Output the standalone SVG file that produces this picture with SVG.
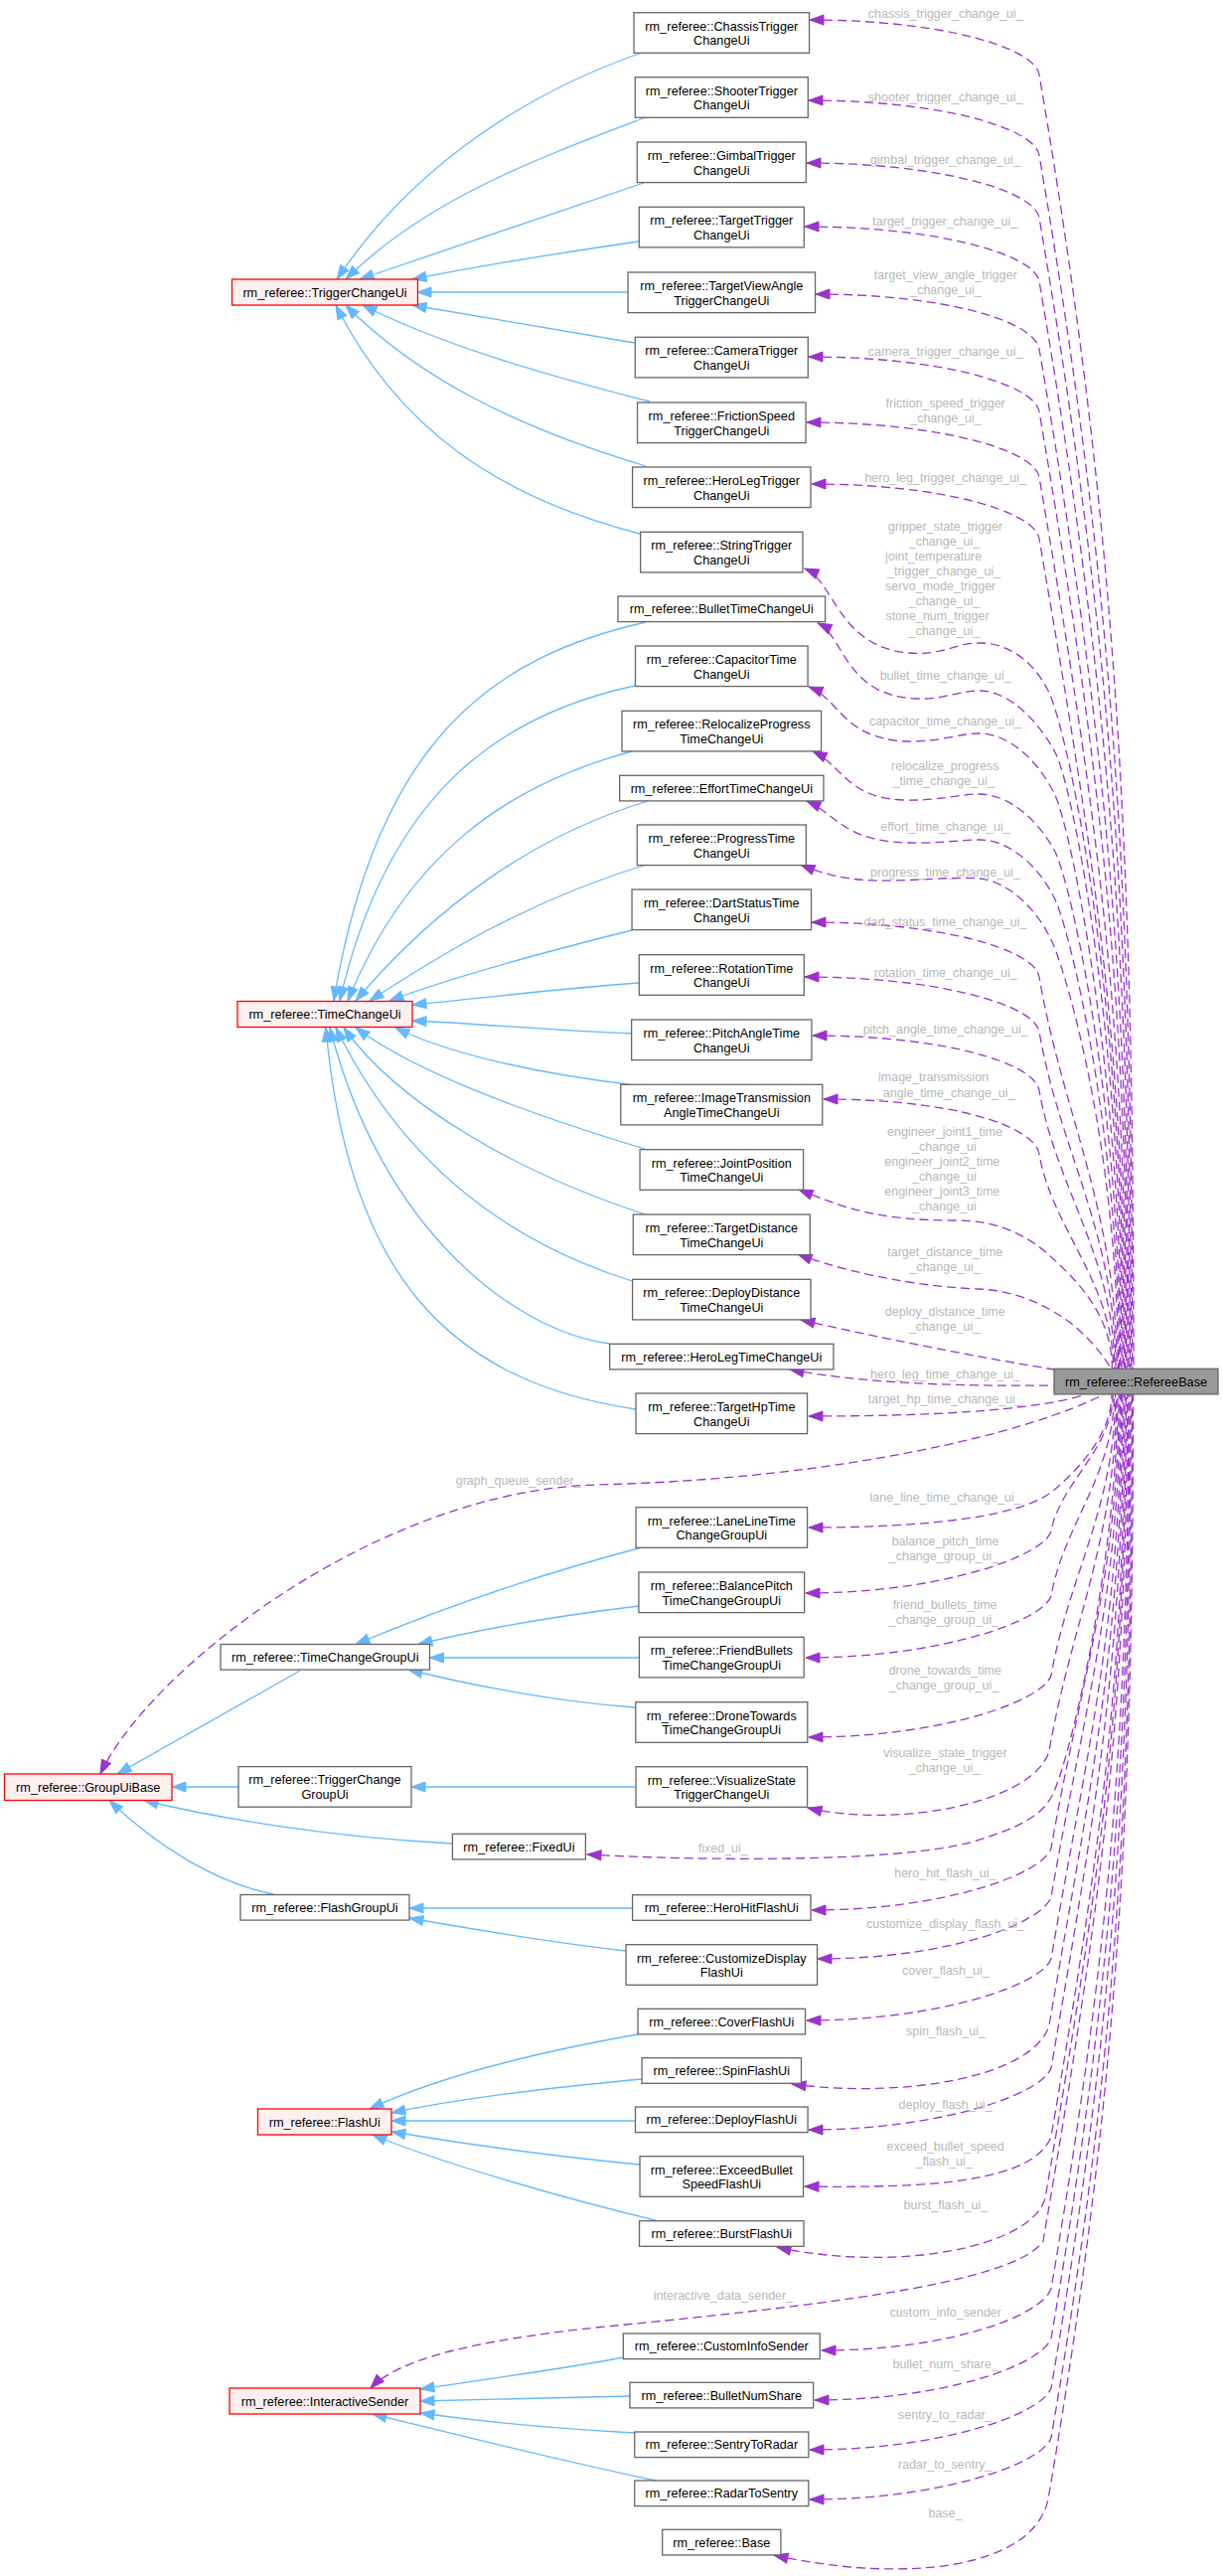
<svg xmlns="http://www.w3.org/2000/svg" width="1231" height="2592" viewBox="0 0 1231 2592">
<style>
.n rect{fill:#ffffff;stroke:#666666;stroke-width:1.3}
.r rect{fill:#fff0f0;stroke:#ff0000;stroke-width:1.3}
.m rect{fill:#999999;stroke:#666666;stroke-width:1.3}
text{font-family:"Liberation Sans",Arial,Helvetica,sans-serif;text-anchor:middle}
.n text,.r text,.m text{font-size:12.7px;fill:#000000}
.lb text{font-size:12.5px;fill:#b8b8b8}
.i{fill:none;stroke:#63b8ff;stroke-width:1.3;marker-end:url(#ab)}
.u{fill:none;stroke:#9a32cd;stroke-width:1.3;stroke-dasharray:9,5;marker-start:url(#ap)}
</style>
<defs>
<marker id="ab" markerUnits="userSpaceOnUse" markerWidth="16" markerHeight="12" viewBox="0 0 16 12" refX="15" refY="6" orient="auto"><path d="M1,1 L15,6 L1,11 z" fill="#63b8ff" stroke="#63b8ff" stroke-width="1"/></marker>
<marker id="ap" markerUnits="userSpaceOnUse" markerWidth="16" markerHeight="12" viewBox="0 0 16 12" refX="1" refY="6" orient="auto"><path d="M15,1 L1,6 L15,11 z" fill="#9a32cd" stroke="#9a32cd" stroke-width="1"/></marker>
</defs>
<rect x="0" y="0" width="1231" height="2592" fill="#ffffff"/>
<g id="connectors">
<path class="i" d="M646,53 C540,90 420,160 339,281"/>
<path class="i" d="M650,118 C540,160 430,200 348,281"/>
<path class="i" d="M648,184 C540,220 440,255 362,281"/>
<path class="i" d="M643,243 C560,255 480,268 415,281"/>
<path class="i" d="M632,294 L420,294"/>
<path class="i" d="M639,345 C560,332 480,318 415,307"/>
<path class="i" d="M654,404 C540,375 440,345 365,307"/>
<path class="i" d="M650,469 C520,430 420,380 348,307"/>
<path class="i" d="M644,537 C500,500 400,430 338,307"/>
<path class="i" d="M650,626 C500,660 380,740 336,1007"/>
<path class="i" d="M639,690 C500,720 390,800 342,1007"/>
<path class="i" d="M636,756 C510,790 410,860 350,1007"/>
<path class="i" d="M652,806 C540,840 440,910 358,1007"/>
<path class="i" d="M650,870 C520,910 430,970 372,1007"/>
<path class="i" d="M636,936 C540,960 450,985 392,1007"/>
<path class="i" d="M643,989 C560,995 480,1005 415,1011"/>
<path class="i" d="M636,1040 C560,1037 480,1030 415,1027"/>
<path class="i" d="M632,1091 C540,1080 450,1060 398,1034"/>
<path class="i" d="M652,1157 C530,1120 420,1080 358,1034"/>
<path class="i" d="M650,1222 C520,1180 400,1110 346,1034"/>
<path class="i" d="M636,1289 C480,1240 390,1140 338,1034"/>
<path class="i" d="M614,1352 C520,1340 385,1240 332,1034"/>
<path class="i" d="M640,1418 C450,1390 350,1280 328,1034"/>
<path class="i" d="M302,1681 L118,1785"/>
<path class="i" d="M240,1798 L173,1798"/>
<path class="i" d="M455,1855 C330,1848 220,1830 145,1811.5"/>
<path class="i" d="M275,1906 C220,1895 160,1860 110,1811.5"/>
<path class="i" d="M646,1557 C540,1585 440,1620 358,1654.5"/>
<path class="i" d="M643,1616 C560,1626 480,1640 421,1654.5"/>
<path class="i" d="M643,1668 L432.5,1668"/>
<path class="i" d="M639,1718 C560,1712 480,1697 411,1680"/>
<path class="i" d="M640,1798 L414,1798"/>
<path class="i" d="M636.6,1920 L412,1920"/>
<path class="i" d="M630,1963 C560,1955 480,1942 412,1930"/>
<path class="i" d="M642,2047 C540,2065 440,2090 372,2122"/>
<path class="i" d="M646,2092 C560,2100 460,2112 394,2126"/>
<path class="i" d="M639.5,2134 L394,2134"/>
<path class="i" d="M644,2178 C560,2170 460,2156 394,2145"/>
<path class="i" d="M662,2234.7 C560,2210 440,2175 375,2148"/>
<path class="i" d="M627.3,2372 C560,2385 480,2395 423,2404"/>
<path class="i" d="M634,2411 L423,2416"/>
<path class="i" d="M638.75,2448 C560,2444 480,2436 423,2428"/>
<path class="i" d="M660,2496 C560,2475 440,2445 375,2429"/>

<path class="u" d="M815,20 C945,20 1041,47 1046,75 C1124.1,530.7 1141,856.2 1141,1377"/>
<path class="u" d="M814,101 C944,101 1041,128 1046,156 C1119.3,583.4 1139.8,888.6 1139.8,1377"/>
<path class="u" d="M812,164 C942,164 1041,191 1046,219 C1115.5,624.3 1138.6,913.8 1138.6,1377"/>
<path class="u" d="M810,228 C940,228 1041,255 1046,283 C1111.6,665.9 1137.4,939.4 1137.4,1377"/>
<path class="u" d="M821,296 C951,296 1041,323 1046,351 C1107.6,710.1 1136.2,966.6 1136.2,1377"/>
<path class="u" d="M814,359 C944,359 1041,386 1046,414 C1103.8,751 1135,991.8 1135,1377"/>
<path class="u" d="M812,425 C942,425 1041,452 1046,480 C1099.8,794 1133.8,1018.2 1133.8,1377"/>
<path class="u" d="M817,487 C947,487 1041,514 1046,542 C1096.1,834.3 1132.6,1043 1132.6,1377"/>
<path class="u" d="M810,572 C840,585 843,650 914,657 C950,660 960,647 986,647 C1015,647 1040,665 1055,695 C1075,735 1131.4,1000 1131.4,1377"/>
<path class="u" d="M823,627 C850,640 850,700 922,703 C950,704 965,695 986,695 C1015,695 1045,725 1062,757 C1080,790 1130.2,1050 1130.2,1377"/>
<path class="u" d="M814,691 C845,703 848,743 912,746 C945,747 965,738 986,738 C1015,738 1045,765 1062,800 C1078,835 1129,1080 1129,1377"/>
<path class="u" d="M818,756 C848,770 852,803 910,805 C945,806 965,799 986,799 C1015,799 1045,825 1062,857 C1078,890 1127.8,1110 1127.8,1377"/>
<path class="u" d="M812,806 C840,818 850,847 914,848 C945,849 965,845 986,845 C1015,845 1045,870 1062,905 C1077,937 1126.6,1140 1126.6,1377"/>
<path class="u" d="M806,870 C835,882 860,887 900,886 C940,885 965,882 986,884 C1015,887 1045,915 1060,950 C1075,985 1125.4,1160 1125.4,1377"/>
<path class="u" d="M817,928 C947,928 1041,955 1046,983 C1069.6,1120.9 1124.2,1219.4 1124.2,1377"/>
<path class="u" d="M810,983 C940,983 1041,1010 1046,1038 C1066.3,1156.7 1123,1241.4 1123,1377"/>
<path class="u" d="M818,1042 C948,1042 1041,1069 1046,1097 C1062.8,1195 1121.8,1265 1121.8,1377"/>
<path class="u" d="M829,1106 C959,1106 1041,1133 1046,1161 C1059,1236.6 1120.6,1290.6 1120.6,1377"/>
<path class="u" d="M804,1197 C850,1215 880,1228 962,1228 C1000,1228 1030,1240 1055,1262 C1080,1285 1119.4,1320 1119.4,1377"/>
<path class="u" d="M803,1262 C860,1283 930,1295 986,1297 C1040,1300 1090,1330 1118.2,1377"/>
<path class="u" d="M806,1328 C880,1345 980,1365 1061,1378"/>
<path class="u" d="M795,1378 C870,1392 960,1395 1061,1394"/>
<path class="u" d="M814,1425 C930,1425 1040,1420 1093,1403"/>
<path class="u" d="M101,1785 C150,1680 380,1500 600,1494 C850,1488 1040,1440 1111,1403"/>
<path class="u" d="M814,1537 C940,1537 1030,1525 1060,1500 C1090,1475 1119,1440 1119,1403"/>
<path class="u" d="M811,1603 C941,1603 1048,1568 1058,1541 C1066.3,1492.7 1120.2,1458.2 1120.2,1403"/>
<path class="u" d="M811,1668 C941,1668 1048,1633 1058,1606 C1070.2,1535 1121.4,1484.2 1121.4,1403"/>
<path class="u" d="M814,1748 C944,1748 1048,1713 1058,1686 C1075,1587 1122.6,1516.2 1122.6,1403"/>
<path class="u" d="M813,1819 C900,1840 1040,1815 1056,1762 C1077.5,1636.4 1123.8,1546.6 1123.8,1403"/>
<path class="u" d="M591,1866 C700,1872 900,1875 980,1853 C1030,1838 1050,1825 1060,1805 C1080,1760 1125,1560 1125,1403"/>
<path class="u" d="M817,1922 C947,1922 1048,1887 1058,1860 C1085.4,1700 1126.2,1585.8 1126.2,1403"/>
<path class="u" d="M823,1971 C953,1971 1048,1936 1058,1909 C1088.4,1731.9 1127.4,1605.4 1127.4,1403"/>
<path class="u" d="M812,2033 C942,2033 1048,1998 1058,1971 C1092.1,1772.2 1128.6,1630.2 1128.6,1403"/>
<path class="u" d="M797,2097 C910,2112 1040,2090 1056,2038 C1094.1,1815.75 1129.8,1657 1129.8,1403"/>
<path class="u" d="M814,2143 C944,2143 1048,2108 1058,2081 C1098.7,1843.7 1131,1674.2 1131,1403"/>
<path class="u" d="M810,2200 C940,2202 1040,2195 1058,2150 C1102.8,1888.55 1132.2,1701.8 1132.2,1403"/>
<path class="u" d="M782,2261 C900,2287 1038,2262 1052,2212 C1100.5,1928.8 1133.4,1726.6 1133.4,1403"/>
<path class="u" d="M373,2403 C400,2375 470,2356 600,2342 C800,2322 1020,2300 1050,2255 C1101,1957 1134.6,1744 1134.6,1403"/>
<path class="u" d="M827,2365 C957,2365 1048,2330 1058,2303 C1112,1988 1135.8,1763 1135.8,1403"/>
<path class="u" d="M820,2415 C950,2415 1048,2380 1058,2353 C1115,2020.5 1137,1783 1137,1403"/>
<path class="u" d="M815,2465 C945,2465 1048,2430 1058,2403 C1118,2053 1138.2,1803 1138.2,1403"/>
<path class="u" d="M815,2515 C945,2515 1048,2480 1058,2453 C1121,2085.5 1139.4,1823 1139.4,1403"/>
<path class="u" d="M779,2571 C910,2600 1040,2585 1055,2515 C1121.7,2125.8 1140.6,1847.8 1140.6,1403"/>

<g class="lb">
<text x="951.7" y="18.4">chassis_trigger_change_ui_</text>
<text x="951.7" y="101.7">shooter_trigger_change_ui_</text>
<text x="951.5" y="165.4">gimbal_trigger_change_ui_</text>
<text x="951.3" y="227.1">target_trigger_change_ui_</text>
<text x="951.7" y="281.1">target_view_angle_trigger</text>
<text x="952" y="296.1">_change_ui_</text>
<text x="951.7" y="357.7">camera_trigger_change_ui_</text>
<text x="951.7" y="410.4">friction_speed_trigger</text>
<text x="952" y="425.4">_change_ui_</text>
<text x="951.7" y="485.1">hero_leg_trigger_change_ui_</text>
<text x="951.5" y="533.7">gripper_state_trigger</text>
<text x="950.5" y="548.7">_change_ui_</text>
<text x="939.6" y="563.7">joint_temperature</text>
<text x="950.1" y="578.7">_trigger_change_ui_</text>
<text x="946.7" y="593.7">servo_mode_trigger</text>
<text x="950.5" y="608.7">_change_ui_</text>
<text x="943.5" y="623.7">stone_num_trigger</text>
<text x="950.5" y="638.7">_change_ui_</text>
<text x="951.7" y="683.7">bullet_time_change_ui_</text>
<text x="951.5" y="729.7">capacitor_time_change_ui_</text>
<text x="951.3" y="775.4">relocalize_progress</text>
<text x="949.7" y="790.1">_time_change_ui_</text>
<text x="951.5" y="836.1">effort_time_change_ui_</text>
<text x="951.5" y="882">progress_time_change_ui_</text>
<text x="951.5" y="932.1">dart_status_time_change_ui_</text>
<text x="951.7" y="983.1">rotation_time_change_ui_</text>
<text x="951.7" y="1040.1">pitch_angle_time_change_ui_</text>
<text x="939.6" y="1088.4">image_transmission</text>
<text x="951.7" y="1103.7">_angle_time_change_ui_</text>
<text x="951.1" y="1143.1">engineer_joint1_time</text>
<text x="950.5" y="1158.1">_change_ui</text>
<text x="948.3" y="1173.1">engineer_joint2_time</text>
<text x="950.5" y="1188.1">_change_ui</text>
<text x="948.3" y="1203.1">engineer_joint3_time</text>
<text x="950.5" y="1218.1">_change_ui</text>
<text x="951.3" y="1264.4">target_distance_time</text>
<text x="951" y="1279.4">_change_ui_</text>
<text x="951.3" y="1324.4">deploy_distance_time</text>
<text x="950.5" y="1339.4">_change_ui_</text>
<text x="951.5" y="1387.1">hero_leg_time_change_ui_</text>
<text x="951.3" y="1412.4">target_hp_time_change_ui_</text>
<text x="521.6" y="1494.3">graph_queue_sender_</text>
<text x="951.7" y="1511.1">lane_line_time_change_ui_</text>
<text x="951.5" y="1555.1">balance_pitch_time</text>
<text x="950" y="1570.1">_change_group_ui_</text>
<text x="951.1" y="1619.1">friend_bullets_time</text>
<text x="950" y="1634.1">_change_group_ui_</text>
<text x="951.3" y="1685.4">drone_towards_time</text>
<text x="950" y="1700.4">_change_group_ui_</text>
<text x="951.5" y="1768.4">visualize_state_trigger</text>
<text x="950.5" y="1783.4">_change_ui_</text>
<text x="727.8" y="1863.7">fixed_ui_</text>
<text x="951.3" y="1889.4">hero_hit_flash_ui_</text>
<text x="951.5" y="1940.1">customize_display_flash_ui_</text>
<text x="951.9" y="1987.1">cover_flash_ui_</text>
<text x="951.9" y="2048.1">spin_flash_ui_</text>
<text x="951.5" y="2121.7">deploy_flash_ui_</text>
<text x="951.7" y="2164.1">exceed_bullet_speed</text>
<text x="950.3" y="2179.1">_flash_ui_</text>
<text x="951.9" y="2222.7">burst_flash_ui_</text>
<text x="728" y="2314.4">interactive_data_sender_</text>
<text x="951.7" y="2331.1">custom_info_sender</text>
<text x="951.7" y="2383.1">bullet_num_share_</text>
<text x="951.3" y="2433.7">sentry_to_radar_</text>
<text x="951.3" y="2484.4">radar_to_sentry_</text>
<text x="951.5" y="2533.4">base_</text>
</g>
</g>

<g id="nodes">
<g id="TriggerChangeUi" class="r"><rect x="233.5" y="281" width="187" height="26"/><text x="327" y="298.5">rm_referee::TriggerChangeUi</text></g>
<g id="TimeChangeUi" class="r"><rect x="239" y="1007.5" width="176" height="26"/><text x="327" y="1025">rm_referee::TimeChangeUi</text></g>
<g id="GroupUiBase" class="r"><rect x="4.5" y="1785" width="168.5" height="26.5"/><text x="88.75" y="1802.5">rm_referee::GroupUiBase</text></g>
<g id="TimeChangeGroupUi" class="n"><rect x="222" y="1654.5" width="210.5" height="25.6"/><text x="327.25" y="1671.8">rm_referee::TimeChangeGroupUi</text></g>
<g id="TriggerChangeGroupUi" class="n"><rect x="240" y="1777.6" width="174" height="40.6"/><text x="327" y="1795.4">rm_referee::TriggerChange</text><text x="327" y="1810.1">GroupUi</text></g>
<g id="FixedUi" class="n"><rect x="455.4" y="1845.3" width="134" height="25.6"/><text x="522.4" y="1862.5">rm_referee::FixedUi</text></g>
<g id="FlashGroupUi" class="n"><rect x="242" y="1906.5" width="170" height="25.6"/><text x="327" y="1923.7">rm_referee::FlashGroupUi</text></g>
<g id="FlashUi" class="r"><rect x="259.5" y="2122" width="134.5" height="26"/><text x="326.75" y="2139.5">rm_referee::FlashUi</text></g>
<g id="InteractiveSender" class="r"><rect x="231" y="2403" width="192" height="26"/><text x="327" y="2420.5">rm_referee::InteractiveSender</text></g>

<g id="ChassisTriggerChangeUi" class="n"><rect x="638.05" y="12.7" width="176.5" height="40.6"/><text x="726.3" y="30.5">rm_referee::ChassisTrigger</text><text x="726.3" y="45.2">ChangeUi</text></g>
<g id="ShooterTriggerChangeUi" class="n"><rect x="639.3" y="77.7" width="174" height="40.6"/><text x="726.3" y="95.5">rm_referee::ShooterTrigger</text><text x="726.3" y="110.2">ChangeUi</text></g>
<g id="GimbalTriggerChangeUi" class="n"><rect x="641.3" y="143" width="170" height="40.6"/><text x="726.3" y="160.8">rm_referee::GimbalTrigger</text><text x="726.3" y="175.5">ChangeUi</text></g>
<g id="TargetTriggerChangeUi" class="n"><rect x="643.3" y="208.3" width="166" height="40.6"/><text x="726.3" y="226.1">rm_referee::TargetTrigger</text><text x="726.3" y="240.8">ChangeUi</text></g>
<g id="TargetViewAngleTriggerChangeUi" class="n"><rect x="632.05" y="274" width="188.5" height="40.6"/><text x="726.3" y="291.8">rm_referee::TargetViewAngle</text><text x="726.3" y="306.5">TriggerChangeUi</text></g>
<g id="CameraTriggerChangeUi" class="n"><rect x="639.3" y="339.3" width="174" height="40.6"/><text x="726.3" y="357.1">rm_referee::CameraTrigger</text><text x="726.3" y="371.8">ChangeUi</text></g>
<g id="FrictionSpeedTriggerChangeUi" class="n"><rect x="641.55" y="405" width="169.5" height="40.6"/><text x="726.3" y="422.8">rm_referee::FrictionSpeed</text><text x="726.3" y="437.5">TriggerChangeUi</text></g>
<g id="HeroLegTriggerChangeUi" class="n"><rect x="636.6" y="470" width="179.4" height="40.6"/><text x="726.3" y="487.8">rm_referee::HeroLegTrigger</text><text x="726.3" y="502.5">ChangeUi</text></g>
<g id="StringTriggerChangeUi" class="n"><rect x="644.65" y="535.3" width="163.3" height="40.6"/><text x="726.3" y="553.1">rm_referee::StringTrigger</text><text x="726.3" y="567.8">ChangeUi</text></g>
<g id="BulletTimeChangeUi" class="n"><rect x="622" y="600" width="208.6" height="25.6"/><text x="726.3" y="617.2">rm_referee::BulletTimeChangeUi</text></g>
<g id="CapacitorTimeChangeUi" class="n"><rect x="639.5" y="650" width="173.6" height="40.6"/><text x="726.3" y="667.8">rm_referee::CapacitorTime</text><text x="726.3" y="682.5">ChangeUi</text></g>
<g id="RelocalizeProgressTimeChangeUi" class="n"><rect x="626" y="715.3" width="200.6" height="40.6"/><text x="726.3" y="733.1">rm_referee::RelocalizeProgress</text><text x="726.3" y="747.8">TimeChangeUi</text></g>
<g id="EffortTimeChangeUi" class="n"><rect x="623.65" y="780.3" width="205.3" height="25.6"/><text x="726.3" y="797.5">rm_referee::EffortTimeChangeUi</text></g>
<g id="ProgressTimeChangeUi" class="n"><rect x="641.3" y="830" width="170" height="40.6"/><text x="726.3" y="847.8">rm_referee::ProgressTime</text><text x="726.3" y="862.5">ChangeUi</text></g>
<g id="DartStatusTimeChangeUi" class="n"><rect x="636.05" y="895" width="180.5" height="40.6"/><text x="726.3" y="912.8">rm_referee::DartStatusTime</text><text x="726.3" y="927.5">ChangeUi</text></g>
<g id="RotationTimeChangeUi" class="n"><rect x="643.3" y="960.7" width="166" height="40.6"/><text x="726.3" y="978.5">rm_referee::RotationTime</text><text x="726.3" y="993.2">ChangeUi</text></g>
<g id="PitchAngleTimeChangeUi" class="n"><rect x="635.65" y="1026" width="181.3" height="40.6"/><text x="726.3" y="1043.8">rm_referee::PitchAngleTime</text><text x="726.3" y="1058.5">ChangeUi</text></g>
<g id="ImageTransmissionAngleTimeChangeUi" class="n"><rect x="624.8" y="1091.3" width="203" height="40.6"/><text x="726.3" y="1109.1">rm_referee::ImageTransmission</text><text x="726.3" y="1123.8">AngleTimeChangeUi</text></g>
<g id="JointPositionTimeChangeUi" class="n"><rect x="644.05" y="1156.7" width="164.5" height="40.6"/><text x="726.3" y="1174.5">rm_referee::JointPosition</text><text x="726.3" y="1189.2">TimeChangeUi</text></g>
<g id="TargetDistanceTimeChangeUi" class="n"><rect x="637.3" y="1222" width="178" height="40.6"/><text x="726.3" y="1239.8">rm_referee::TargetDistance</text><text x="726.3" y="1254.5">TimeChangeUi</text></g>
<g id="DeployDistanceTimeChangeUi" class="n"><rect x="636.6" y="1287.3" width="179.4" height="40.6"/><text x="726.3" y="1305.1">rm_referee::DeployDistance</text><text x="726.3" y="1319.8">TimeChangeUi</text></g>
<g id="HeroLegTimeChangeUi" class="n"><rect x="613.65" y="1352.3" width="225.3" height="25.6"/><text x="726.3" y="1369.5">rm_referee::HeroLegTimeChangeUi</text></g>
<g id="TargetHpTimeChangeUi" class="n"><rect x="640.05" y="1402" width="172.5" height="40.6"/><text x="726.3" y="1419.8">rm_referee::TargetHpTime</text><text x="726.3" y="1434.5">ChangeUi</text></g>
<g id="RefereeBase" class="m"><rect x="1061" y="1377.3" width="165" height="25.6"/><text x="1143.5" y="1394.5">rm_referee::RefereeBase</text></g>
<g id="LaneLineTimeChangeGroupUi" class="n"><rect x="640.05" y="1516.7" width="172.5" height="40.6"/><text x="726.3" y="1534.5">rm_referee::LaneLineTime</text><text x="726.3" y="1549.2">ChangeGroupUi</text></g>
<g id="BalancePitchTimeChangeGroupUi" class="n"><rect x="642.95" y="1582" width="166.7" height="40.6"/><text x="726.3" y="1599.8">rm_referee::BalancePitch</text><text x="726.3" y="1614.5">TimeChangeGroupUi</text></g>
<g id="FriendBulletsTimeChangeGroupUi" class="n"><rect x="643.4" y="1647.3" width="165.8" height="40.6"/><text x="726.3" y="1665.1">rm_referee::FriendBullets</text><text x="726.3" y="1679.8">TimeChangeGroupUi</text></g>
<g id="DroneTowardsTimeChangeGroupUi" class="n"><rect x="639.8" y="1712.7" width="173" height="40.6"/><text x="726.3" y="1730.5">rm_referee::DroneTowards</text><text x="726.3" y="1745.2">TimeChangeGroupUi</text></g>
<g id="VisualizeStateTriggerChangeUi" class="n"><rect x="640.05" y="1777.7" width="172.5" height="40.6"/><text x="726.3" y="1795.5">rm_referee::VisualizeState</text><text x="726.3" y="1810.2">TriggerChangeUi</text></g>
<g id="HeroHitFlashUi" class="n"><rect x="636.6" y="1906.7" width="179.4" height="25.6"/><text x="726.3" y="1923.9">rm_referee::HeroHitFlashUi</text></g>
<g id="CustomizeDisplayFlashUi" class="n"><rect x="630.05" y="1956.7" width="192.5" height="40.6"/><text x="726.3" y="1974.5">rm_referee::CustomizeDisplay</text><text x="726.3" y="1989.2">FlashUi</text></g>
<g id="CoverFlashUi" class="n"><rect x="642.05" y="2021.3" width="168.5" height="25.6"/><text x="726.3" y="2038.5">rm_referee::CoverFlashUi</text></g>
<g id="SpinFlashUi" class="n"><rect x="646.1" y="2070.7" width="160.4" height="25.6"/><text x="726.3" y="2087.9">rm_referee::SpinFlashUi</text></g>
<g id="DeployFlashUi" class="n"><rect x="639.5" y="2120" width="173.6" height="25.6"/><text x="726.3" y="2137.2">rm_referee::DeployFlashUi</text></g>
<g id="ExceedBulletSpeedFlashUi" class="n"><rect x="644.05" y="2169.7" width="164.5" height="40.6"/><text x="726.3" y="2187.5">rm_referee::ExceedBullet</text><text x="726.3" y="2202.2">SpeedFlashUi</text></g>
<g id="BurstFlashUi" class="n"><rect x="643.55" y="2234.7" width="165.5" height="25.6"/><text x="726.3" y="2251.9">rm_referee::BurstFlashUi</text></g>
<g id="CustomInfoSender" class="n"><rect x="627.3" y="2348" width="198" height="25.6"/><text x="726.3" y="2365.2">rm_referee::CustomInfoSender</text></g>
<g id="BulletNumShare" class="n"><rect x="633.95" y="2397.3" width="184.7" height="25.6"/><text x="726.3" y="2414.5">rm_referee::BulletNumShare</text></g>
<g id="SentryToRadar" class="n"><rect x="638.75" y="2447" width="175.1" height="25.6"/><text x="726.3" y="2464.2">rm_referee::SentryToRadar</text></g>
<g id="RadarToSentry" class="n"><rect x="638.75" y="2496" width="175.1" height="25.6"/><text x="726.3" y="2513.2">rm_referee::RadarToSentry</text></g>
<g id="Base" class="n"><rect x="666.7" y="2545.3" width="119.2" height="25.6"/><text x="726.3" y="2562.5">rm_referee::Base</text></g>
</g>
</svg>
